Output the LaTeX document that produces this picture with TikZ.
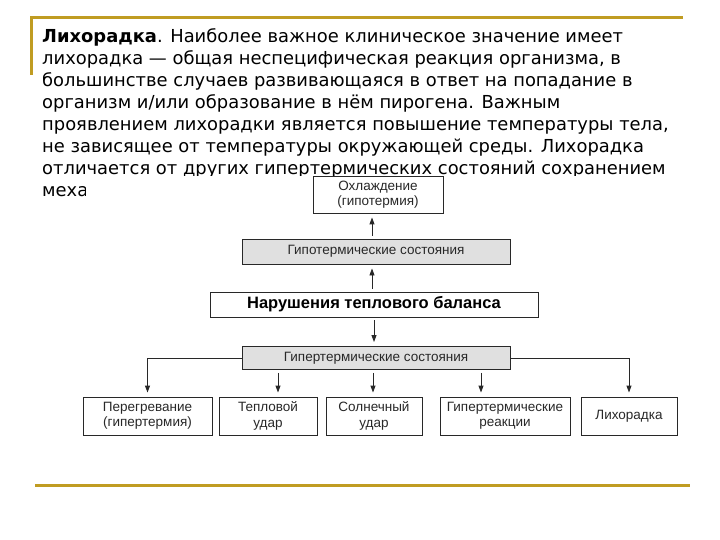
\documentclass[tikz,border=0pt]{standalone}
\usepackage{fontspec}
\usetikzlibrary{arrows.meta}
\newfontfamily\bodyfont{DejaVu Sans}
\newfontfamily\diafont{Liberation Sans}
\definecolor{gold}{RGB}{192,156,34}
\definecolor{boxgray}{RGB}{224,224,224}
\definecolor{ink}{RGB}{40,40,40}
\tikzset{
  bodyline/.style={anchor=base west, inner sep=0pt, font=\bodyfont\fontsize{17.9bp}{22bp}\selectfont, text=black},
  dbox/.style={draw=ink, line width=0.9bp, fill=white, inner sep=0pt, align=center,
    font=\diafont\fontsize{13.5bp}{15.5bp}\selectfont, text=ink},
  gbox/.style={dbox, fill=boxgray},
  arr/.style={draw=ink, line width=0.9bp, -{Triangle[length=7bp,width=5bp]}, shorten <=3bp, shorten >=4bp},
  goldline/.style={draw=gold, line width=3bp}
}
\begin{document}
\begin{tikzpicture}[x=1bp,y=-1bp]
\useasboundingbox (0,0) rectangle (720,540);
% gold frame lines
\draw[goldline] (30,18) -- (683,18);
\draw[goldline] (31.5,18) -- (31.5,75);
\draw[goldline] (35,485) -- (690,485);
% body text
\node[bodyline] (l1) at (42,43) {{\bfseries Лихорадка}. Наиболее важное клиническое значение имеет};
\node[bodyline] (l2) at (42,65) {лихорадка — общая неспецифическая реакция организма, в};
\node[bodyline] (l3) at (42,87) {большинстве случаев развивающаяся в ответ на попадание в};
\node[bodyline] (l4) at (42,109) {организм и/или образование в нём пирогена. Важным};
\node[bodyline] (l5) at (42,131) {проявлением лихорадки является повышение температуры тела,};
\node[bodyline] (l6) at (42,153) {не зависящее от температуры окружающей среды. Лихорадка};
\node[bodyline] (l7) at (42,175) {отличается от других гипертермических состояний сохранением};
\node[bodyline] (l8) at (42,197) {меха};
% diagram background
\fill[white] (86,176) rectangle (692,445);
% diagram boxes
\node[dbox, minimum width=130bp, minimum height=37bp] (cool) at (378,194.5) {Охлаждение\\(гипотермия)};
\node[gbox, minimum width=268bp, minimum height=25bp] (hypo) at (376,251.5) {\raisebox{-1bp}{Гипотермические состояния}};
\node[dbox, minimum width=328bp, minimum height=25bp, font=\diafont\bfseries\fontsize{16.5bp}{18bp}\selectfont, text=black] (main) at (374,304.5) {\raisebox{-1bp}{Нарушения теплового баланса}};
\node[gbox, minimum width=268bp, minimum height=23bp] (hyper) at (376,358) {\raisebox{-1bp}{Гипертермические состояния}};
\node[dbox, minimum width=129bp, minimum height=38bp] (b1) at (147.5,416) {Перегревание\\(гипертермия)};
\node[dbox, minimum width=98bp, minimum height=38bp] (b2) at (268,416) {Тепловой\\удар};
\node[dbox, minimum width=96bp, minimum height=38bp] (b3) at (374,416) {Солнечный\\удар};
\node[dbox, minimum width=130bp, minimum height=38bp] (b4) at (505,416) {Гипертермические\\реакции};
\node[dbox, minimum width=96bp, minimum height=38bp] (b5) at (629,416) {Лихорадка};
% connectors
\draw[arr] ([xshift=-4bp]hypo.north) -- ([xshift=-4bp]hypo.north |- cool.south);
\draw[arr] ([xshift=-2bp]main.north) -- ([xshift=-2bp]main.north |- hypo.south);
\draw[arr] (main.south) -- (main.south |- hyper.north);
\draw[arr, shorten <=0bp] (hyper.west) -| (b1.north);
\draw[arr, shorten <=0bp] (hyper.east) -| (b5.north);
\draw[arr] ([xshift=10bp]b2.north |- hyper.south) -- ([xshift=10bp]b2.north);
\draw[arr] ([xshift=-1bp]b3.north |- hyper.south) -- ([xshift=-1bp]b3.north);
\draw[arr] ([xshift=-24bp]b4.north |- hyper.south) -- ([xshift=-24bp]b4.north);
\end{tikzpicture}
\end{document}
